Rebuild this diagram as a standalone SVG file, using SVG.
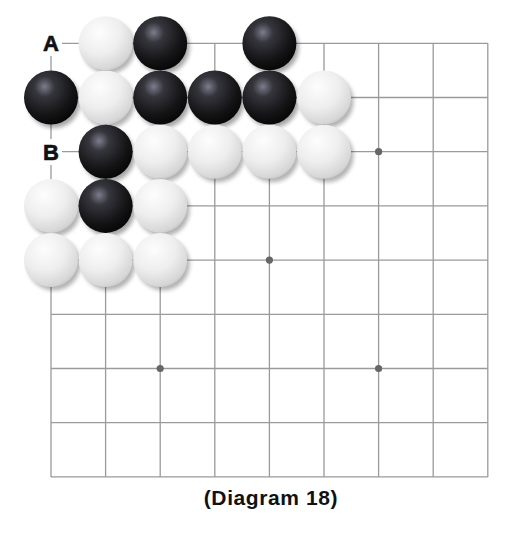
<svg xmlns="http://www.w3.org/2000/svg" xmlns:xlink="http://www.w3.org/1999/xlink" width="522" height="536" viewBox="0 0 522 536">
<style>
.grid line{stroke:#9a9a9a;stroke-width:1.3}
.star{fill:#666}
.lbl{font-family:"Liberation Sans",Arial,sans-serif;font-weight:bold;font-size:22px;fill:#111;text-anchor:middle}
.cap{font-family:"Liberation Sans",Arial,sans-serif;font-weight:bold;font-size:21px;fill:#111;text-anchor:middle;letter-spacing:0.6px}
</style>
<defs>
<radialGradient id="gb" cx="0.38" cy="0.3" r="0.75">
<stop offset="0" stop-color="#7c7c8c"/>
<stop offset="0.25" stop-color="#35353c"/>
<stop offset="0.7" stop-color="#141416"/>
<stop offset="1" stop-color="#050505"/>
</radialGradient>
<radialGradient id="gw" cx="0.38" cy="0.3" r="0.8">
<stop offset="0" stop-color="#fdfdfd"/>
<stop offset="0.5" stop-color="#eeeeee"/>
<stop offset="0.85" stop-color="#d6d6d6"/>
<stop offset="1" stop-color="#b8b8b8"/>
</radialGradient>
<filter id="sh" x="-30%" y="-30%" width="160%" height="160%">
<feGaussianBlur stdDeviation="2.2"/>
</filter>
<g id="black">
<circle cx="3" cy="4" r="26.5" fill="#000" opacity="0.35" filter="url(#sh)"/>
<circle r="27" fill="url(#gb)"/>
</g>
<g id="white">
<circle cx="3" cy="4" r="26.5" fill="#000" opacity="0.3" filter="url(#sh)"/>
<circle r="27" fill="url(#gw)"/>
</g>
</defs>
<rect width="522" height="536" fill="#fff"/>
<g id="board" class="grid">
<line x1="51" y1="43.3" x2="487.8" y2="43.3"/>
<line x1="51" y1="97.5" x2="487.8" y2="97.5"/>
<line x1="51" y1="151.7" x2="487.8" y2="151.7"/>
<line x1="51" y1="205.9" x2="487.8" y2="205.9"/>
<line x1="51" y1="260.1" x2="487.8" y2="260.1"/>
<line x1="51" y1="314.3" x2="487.8" y2="314.3"/>
<line x1="51" y1="368.5" x2="487.8" y2="368.5"/>
<line x1="51" y1="422.7" x2="487.8" y2="422.7"/>
<line x1="51" y1="476.9" x2="487.8" y2="476.9"/>
<line x1="51" y1="43.3" x2="51" y2="476.9"/>
<line x1="105.6" y1="43.3" x2="105.6" y2="476.9"/>
<line x1="160.2" y1="43.3" x2="160.2" y2="476.9"/>
<line x1="214.8" y1="43.3" x2="214.8" y2="476.9"/>
<line x1="269.4" y1="43.3" x2="269.4" y2="476.9"/>
<line x1="324" y1="43.3" x2="324" y2="476.9"/>
<line x1="378.6" y1="43.3" x2="378.6" y2="476.9"/>
<line x1="433.2" y1="43.3" x2="433.2" y2="476.9"/>
<line x1="487.8" y1="43.3" x2="487.8" y2="476.9"/>
</g>
<g id="stars">
<circle class="star" cx="378.6" cy="151.7" r="3.6"/>
<circle class="star" cx="269.4" cy="260.1" r="3.6"/>
<circle class="star" cx="160.2" cy="368.5" r="3.6"/>
<circle class="star" cx="378.6" cy="368.5" r="3.6"/>
</g>
<g id="label-A">
<rect x="39" y="30" width="23" height="26" fill="#fff"/>
<text class="lbl" x="51" y="51.3" stroke="#111" stroke-width="0.6">A</text>
</g>
<g id="label-B">
<rect x="39" y="139" width="23" height="26" fill="#fff"/>
<text class="lbl" x="51" y="159.6" stroke="#111" stroke-width="0.6">B</text>
</g>
<g id="stones">
<use id="w-1-0" xlink:href="#white" x="105.6" y="43.3"/>
<use id="b-2-0" xlink:href="#black" x="160.2" y="43.3"/>
<use id="b-4-0" xlink:href="#black" x="269.4" y="43.3"/>
<use id="b-0-1" xlink:href="#black" x="51" y="97.5"/>
<use id="w-1-1" xlink:href="#white" x="105.6" y="97.5"/>
<use id="b-2-1" xlink:href="#black" x="160.2" y="97.5"/>
<use id="b-3-1" xlink:href="#black" x="214.8" y="97.5"/>
<use id="b-4-1" xlink:href="#black" x="269.4" y="97.5"/>
<use id="w-5-1" xlink:href="#white" x="324" y="97.5"/>
<use id="b-1-2" xlink:href="#black" x="105.6" y="151.7"/>
<use id="w-2-2" xlink:href="#white" x="160.2" y="151.7"/>
<use id="w-3-2" xlink:href="#white" x="214.8" y="151.7"/>
<use id="w-4-2" xlink:href="#white" x="269.4" y="151.7"/>
<use id="w-5-2" xlink:href="#white" x="324" y="151.7"/>
<use id="w-0-3" xlink:href="#white" x="51" y="205.9"/>
<use id="b-1-3" xlink:href="#black" x="105.6" y="205.9"/>
<use id="w-2-3" xlink:href="#white" x="160.2" y="205.9"/>
<use id="w-0-4" xlink:href="#white" x="51" y="260.1"/>
<use id="w-1-4" xlink:href="#white" x="105.6" y="260.1"/>
<use id="w-2-4" xlink:href="#white" x="160.2" y="260.1"/>
</g>
<text class="cap" x="271" y="505">(Diagram 18)</text>
</svg>
